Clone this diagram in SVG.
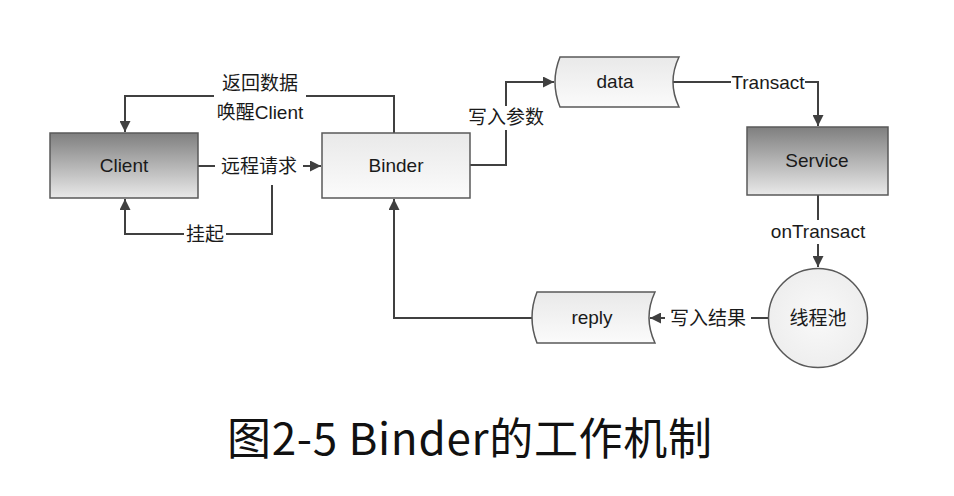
<svg xmlns="http://www.w3.org/2000/svg" width="954" height="496" viewBox="0 0 954 496">
<style>
.box{stroke:#595959;stroke-width:1.5}
.conn{fill:none;stroke:#404040;stroke-width:2}
.lbl{font-family:"Liberation Sans","Noto Sans CJK SC",sans-serif;font-size:19px;fill:#1a1a1a;text-anchor:middle}
.cjk{font-family:"Noto Sans CJK SC",sans-serif;font-size:19px;fill:#1a1a1a;text-anchor:middle}
.bg{fill:#ffffff}
.title{font-family:"Noto Sans CJK SC",sans-serif;font-size:44px;fill:#111111;text-anchor:middle}
</style>
<defs>
<linearGradient id="dark" x1="0" y1="0" x2="0" y2="1">
<stop offset="0" stop-color="#7f7f7f"/>
<stop offset="1" stop-color="#e9e9e9"/>
</linearGradient>
<linearGradient id="light" x1="0" y1="0" x2="0" y2="1">
<stop offset="0" stop-color="#e9e9e9"/>
<stop offset="1" stop-color="#fbfbfb"/>
</linearGradient>
<radialGradient id="circ" cx="0.5" cy="0.5" r="0.6">
<stop offset="0" stop-color="#f9f9f9"/>
<stop offset="1" stop-color="#ececec"/>
</radialGradient>
<marker id="arr" viewBox="0 0 10 10" refX="10" refY="5" markerWidth="11" markerHeight="11" markerUnits="userSpaceOnUse" orient="auto">
<path d="M0,0 L10,5 L0,10 Z" fill="#404040"/>
</marker>
</defs>
<rect width="954" height="496" fill="#ffffff"/>
<g id="connectors">
<path class="conn" d="M394,133 V96 H125 V132" marker-end="url(#arr)"/>
<path class="conn" d="M198,166 H321" marker-end="url(#arr)"/>
<path class="conn" d="M272,185 V234 H125 V199" marker-end="url(#arr)"/>
<path class="conn" d="M470,165 H506 V82 H554" marker-end="url(#arr)"/>
<path class="conn" d="M673,82 H818 V126" marker-end="url(#arr)"/>
<path class="conn" d="M818,195 V267" marker-end="url(#arr)"/>
<path class="conn" d="M768,318 H650" marker-end="url(#arr)"/>
<path class="conn" d="M532,318 H394 V199" marker-end="url(#arr)"/>
<g id="connector-labels">
<rect class="bg" x="214" y="88" width="92" height="14"/>
<text class="cjk" x="260" y="90">返回数据</text>
<text class="lbl" x="260" y="119">唤醒Client</text>
<rect class="bg" x="215" y="155" width="88" height="22"/>
<text class="cjk" x="259" y="173">远程请求</text>
<rect class="bg" x="184" y="223" width="42" height="22"/>
<text class="cjk" x="205" y="241">挂起</text>
<rect class="bg" x="463" y="106" width="86" height="24"/>
<text class="cjk" x="506" y="124">写入参数</text>
<rect class="bg" x="731" y="72" width="74" height="20"/>
<text class="lbl" x="768" y="89">Transact</text>
<rect class="bg" x="768" y="220" width="100" height="24"/>
<text class="lbl" x="818" y="238">onTransact</text>
<rect class="bg" x="665" y="307" width="86" height="22"/>
<text class="cjk" x="708" y="325">写入结果</text>
</g>
</g>
<g id="client">
<rect class="box" x="50" y="133" width="148" height="65" fill="url(#dark)"/>
<text class="lbl" x="124" y="172">Client</text>
</g>
<g id="binder">
<rect class="box" x="322" y="133" width="148" height="65" fill="url(#light)"/>
<text class="lbl" x="396" y="172">Binder</text>
</g>
<g id="data">
<path class="box" d="M560,57 L679,57 Q667,82 679,107 L560,107 Q550,82 560,57 Z" fill="url(#light)"/>
<text class="lbl" x="615" y="88">data</text>
</g>
<g id="service">
<rect class="box" x="747" y="127" width="141" height="68" fill="url(#dark)"/>
<text class="lbl" x="817" y="167">Service</text>
</g>
<g id="threadpool">
<circle class="box" cx="818" cy="318" r="49.5" fill="url(#circ)"/>
<text class="cjk" x="818" y="325">线程池</text>
</g>
<g id="reply">
<path class="box" d="M537,292 L655,292 Q643,317.5 655,343 L537,343 Q527,317.5 537,292 Z" fill="url(#light)"/>
<text class="lbl" x="592" y="324">reply</text>
</g>
<text class="title" x="469.5" y="455" textLength="485" lengthAdjust="spacing">图2-5 Binder的工作机制</text>
</svg>
